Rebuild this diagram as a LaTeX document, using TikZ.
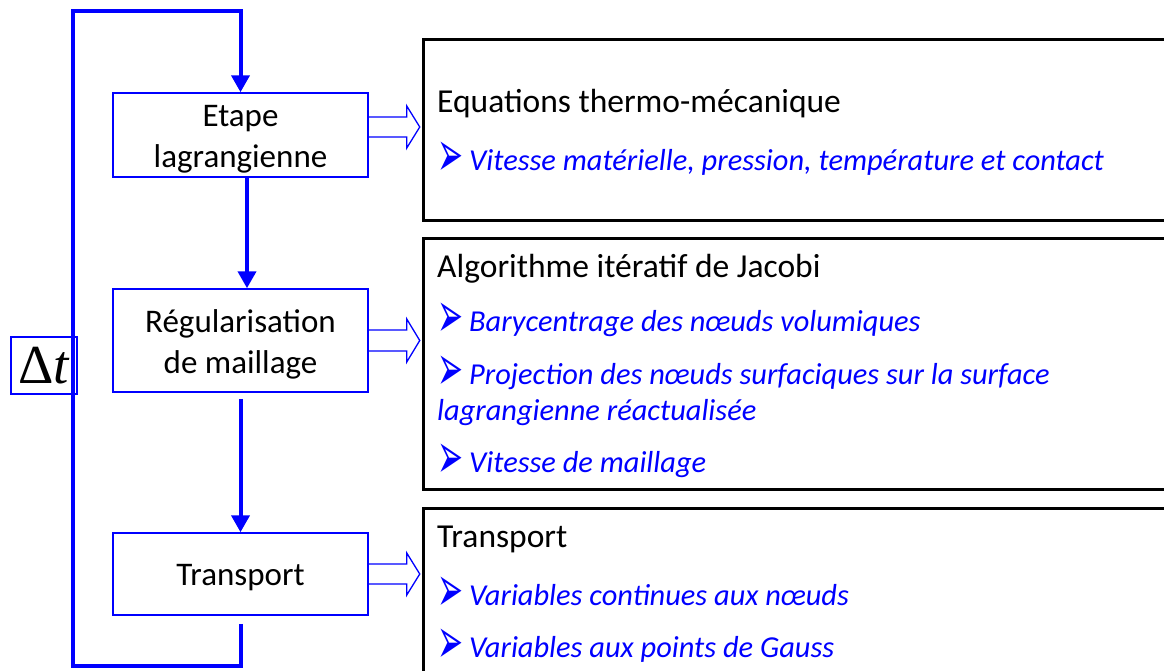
\documentclass[tikz,border=0pt]{standalone}
\usepackage{fontspec}
\usepackage{graphicx}
\setmainfont{Carlito}
\newfontfamily\dejavu{DejaVu Sans}
\newfontfamily\tms{Liberation Serif}
\usetikzlibrary{arrows.meta,calc}
\definecolor{pblue}{RGB}{0,0,255}
\newcommand{\blt}{\hspace*{0.5pt}\makebox[31.5pt][l]{\upshape\dejavu\fontsize{27}{27}\selectfont\raisebox{-6pt}[18pt][0pt]{\scalebox{1.15}[2.4]{➢}}}}
\begin{document}
\begin{tikzpicture}[x=1pt,y=-1pt,
  stepbox/.style={draw=pblue, line width=1.5pt, minimum width=255pt, inner sep=0pt},
  steptext/.style={align=center, inner sep=0pt, font=\fontsize{33}{41}\selectfont},
  infobox/.style={draw=black, line width=3pt, minimum width=752pt, inner sep=0pt},
  flow/.style={draw=pblue, line width=4pt, line join=miter},
  tipa/.style={-{Triangle[length=17pt,width=18pt]}},
  hollow/.style={draw=pblue, line width=1.3pt, line join=miter},
  headtxt/.style={anchor=base west, inner sep=0pt, font=\fontsize{33.5}{36}\selectfont},
  itemtxt/.style={anchor=base west, inner sep=0pt, text=pblue, font=\fontsize{30.4}{36}\selectfont\itshape},
]
\useasboundingbox (0,0) rectangle (1164,670);
\clip (0,0) rectangle (1164,670);

% step boxes
\node[stepbox, minimum height=84pt] (b1) at (240.5,135) {};
\node[stepbox, minimum height=103pt] (b2) at (240.5,340.5) {};
\node[stepbox, minimum height=82pt] (b3) at (240.5,574) {};
\node[steptext] (s1) at ([yshift=-4pt]b1.center) {Etape\\lagrangienne};
\node[steptext] (s2) at ([yshift=-4pt]b2.center) {Régularisation\\de maillage};
\node[steptext] (s3) at ([yshift=-4pt]b3.center) {Transport};

% time loop
\coordinate (bl) at (73,666);
\coordinate (tl) at (73,11);
\draw[flow, tipa] ($(b3.south)+(0,8)$) |- (bl) -- (tl) -| (b1.north);
\draw[flow, tipa] ([xshift=6.5pt]b1.south) -- ([xshift=6.5pt]b2.north);
\draw[flow, tipa] ($(b2.south)+(0,6)$) -- (b3.north);

\node[draw=pblue, line width=1.5pt, minimum width=66pt, minimum height=57pt, inner sep=0pt,
  font=\tms\fontsize{55}{55}\selectfont] (dt) at (44,365.5) {Δ\textit{t}};

% info boxes
\node[infobox, minimum height=181pt] (r1) at (799,129.5) {};
\node[infobox, minimum height=251pt] (r2) at (799,363.5) {};
\node[infobox, minimum height=182pt] (r3) at (799,599) {};

% hollow arrows
\draw[hollow] ($(b1.east)+(0,-18)$) -- ++(38,0) -- ++(0,-11) -- ++(13,21) -- ++(-13,21) -- ++(0,-11) -- ++(-38,0);
\draw[hollow] ($(b2.east)+(0,-10.5)$) -- ++(38,0) -- ++(0,-11) -- ++(13,21.5) -- ++(-13,21.5) -- ++(0,-11) -- ++(-38,0);
\draw[hollow] ($(b3.east)+(0,-10)$) -- ++(38,0) -- ++(0,-11) -- ++(13,21) -- ++(-13,21) -- ++(0,-11) -- ++(-38,0);

% texts
\node[headtxt] (h1) at (437,112) {Equations thermo-mécanique};
\node[itemtxt] (i11) at (437,170) {\blt Vitesse matérielle, pression, température et contact};

\node[headtxt] (h2) at (437,277) {Algorithme itératif de Jacobi};
\node[itemtxt] (i21) at (437,331) {\blt Barycentrage des nœuds volumiques};
\node[itemtxt] (i22) at (437,384) {\blt Projection des nœuds surfaciques sur la surface};
\node[itemtxt] (i23) at (437,420) {lagrangienne réactualisée};
\node[itemtxt] (i24) at (437,472) {\blt Vitesse de maillage};

\node[headtxt] (h3) at (437,547) {Transport};
\node[itemtxt] (i31) at (437,605) {\blt Variables continues aux nœuds};
\node[itemtxt] (i32) at (437,657) {\blt Variables aux points de Gauss};
\end{tikzpicture}
\end{document}
